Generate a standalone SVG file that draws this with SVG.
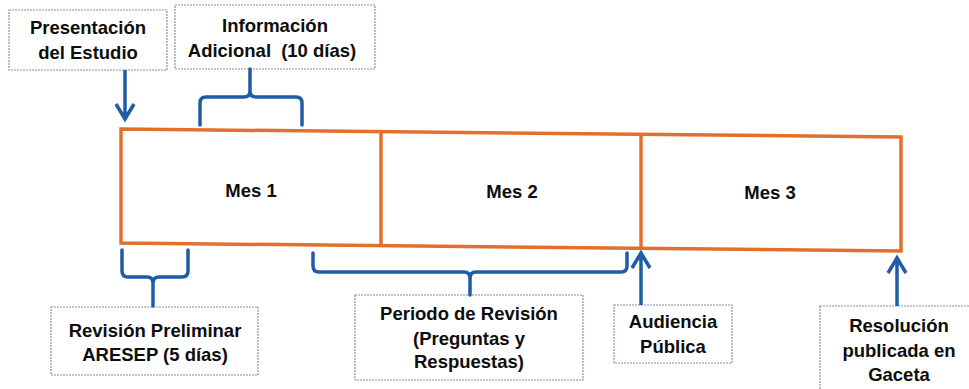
<svg xmlns="http://www.w3.org/2000/svg" width="969" height="389" viewBox="0 0 969 389">
<style>
.lbl{font-family:"Liberation Sans",Arial,sans-serif;font-weight:bold;font-size:18.5px;fill:#0d0d0d;text-anchor:middle}
.box{fill:#fff;stroke:#8a90a8;stroke-width:1.2;stroke-dasharray:2 1}
.brace{fill:none;stroke:#1f5ca6;stroke-width:3.5;stroke-linecap:round;stroke-linejoin:round}
.arr{fill:none;stroke:#1f5ca6;stroke-width:3.5;stroke-linecap:butt;stroke-linejoin:miter}
.tl{fill:#fff;stroke:#e2702c;stroke-width:3.5}
</style>
<rect width="969" height="389" fill="#fff"/>
<g id="timeline">
<polygon class="tl" points="121,129 901,137 901,251 121,243"/>
<line class="tl" x1="381" y1="132" x2="381" y2="246"/>
<line class="tl" x1="641" y1="134" x2="641" y2="249"/>
</g>
<g id="mes1"><text class="lbl" x="251" y="197">Mes 1</text></g>
<g id="mes2"><text class="lbl" x="512" y="198">Mes 2</text></g>
<g id="mes3"><text class="lbl" x="770" y="199">Mes 3</text></g>
<g id="presentacion">
<rect class="box" x="9" y="10" width="158" height="60"/>
<text class="lbl" x="88" y="34">Presentación</text>
<text class="lbl" x="88" y="59">del Estudio</text>
</g>
<g id="informacion">
<rect class="box" x="175" y="5" width="200" height="64"/>
<text class="lbl" x="275" y="32">Información</text>
<text class="lbl" x="272" y="57">Adicional <tspan dx="5">(10 días)</tspan></text>
</g>
<g id="revision">
<rect class="box" x="51" y="307" width="207" height="68"/>
<text class="lbl" x="155" y="337">Revisión Preliminar</text>
<text class="lbl" x="155" y="361">ARESEP (5 días)</text>
</g>
<g id="periodo">
<rect class="box" x="355" y="295" width="228" height="85"/>
<text class="lbl" x="469" y="320">Periodo de Revisión</text>
<text class="lbl" x="469" y="345">(Preguntas y</text>
<text class="lbl" x="469" y="368">Respuestas)</text>
</g>
<g id="audiencia">
<rect class="box" x="614" y="305" width="118" height="58"/>
<text class="lbl" x="673" y="328">Audiencia</text>
<text class="lbl" x="673" y="353">Pública</text>
</g>
<g id="resolucion">
<rect class="box" x="820" y="306" width="160" height="90"/>
<text class="lbl" x="899" y="332">Resolución</text>
<text class="lbl" x="899" y="357">publicada en</text>
<text class="lbl" x="899" y="381">Gaceta</text>
</g>
<g id="connectors">
<path class="brace" d="M200,125 V103 Q200,97 206,97 H244 Q250,97 250,91 V69 M250,91 Q250,97 256,97 H296 Q302,97 302,103 V125"/>
<path class="brace" d="M122,250 V271 Q122,277 128,277 H147 Q153,277 153,283 V306 M153,283 Q153,277 159,277 H182 Q188,277 188,271 V250"/>
<path class="brace" d="M313,253 V266 Q313,272 319,272 H464 Q470,272 470,278 V295 M470,278 Q470,272 476,272 H621 Q627,272 627,266 V253"/>
<path class="arr" d="M125,70 V118 M116,104 L125,119 L134,104"/>
<path class="arr" d="M641,305 V254 M632,268 L641,253 L650,268"/>
<path class="arr" d="M897,306 V259 M888,273 L897,258 L906,273"/>
</g>
</svg>
